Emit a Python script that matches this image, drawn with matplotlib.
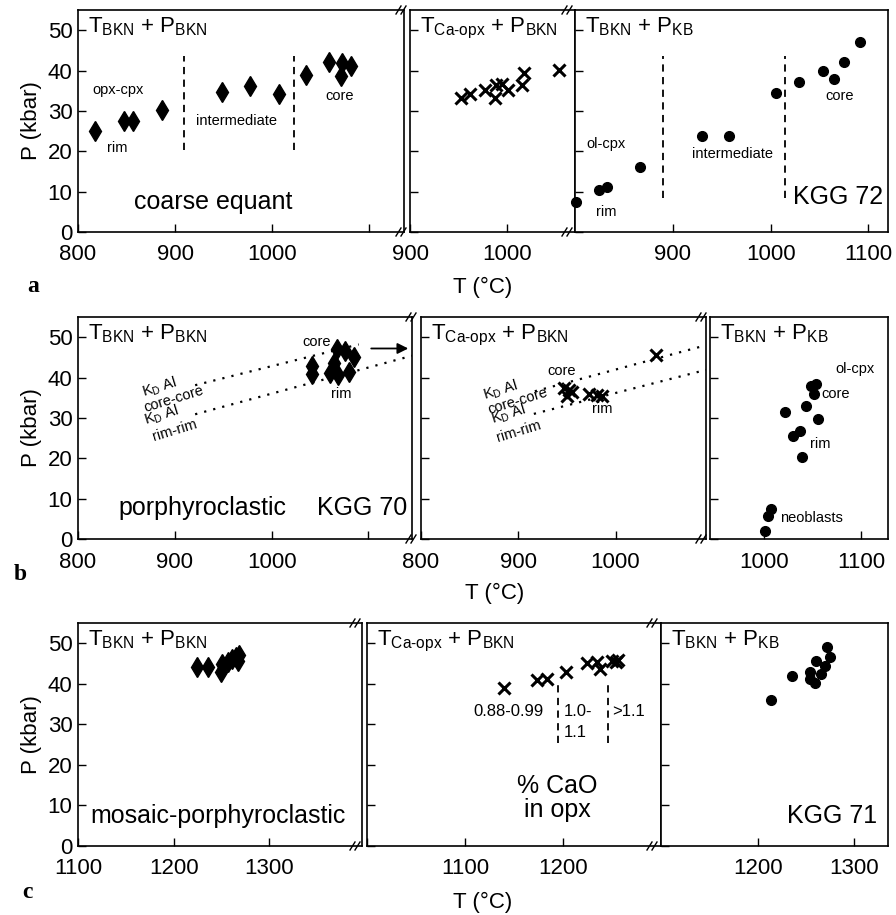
import matplotlib
matplotlib.use('Agg')
import numpy as np
from matplotlib import pyplot as plt
from matplotlib.lines import Line2D

plt.rcParams['font.family'] = ['Liberation Sans', 'DejaVu Sans']
plt.rcParams['mathtext.fontset'] = 'custom'
plt.rcParams['mathtext.rm'] = 'Liberation Sans'
plt.rcParams['mathtext.it'] = 'Liberation Sans:italic'

# row a: coarse equant, KGG 72
a1_T = [818, 847, 857, 887, 948, 977, 1007, 1035, 1059, 1071, 1072, 1081]
a1_P = [24.9, 27.6, 27.6, 30.3, 34.6, 36.1, 34.2, 38.9, 42.1, 38.7, 41.9, 41.2]
a2_T = [953, 962, 977, 988, 989, 995, 1001, 1015, 1017, 1053]
a2_P = [33.2, 34.2, 35.3, 33.2, 36.5, 36.7, 35.3, 36.3, 39.4, 40.2]
a3_T = [801, 825, 833, 866, 930, 957, 1006, 1029, 1054, 1065, 1075, 1091]
a3_P = [7.4, 10.3, 11.2, 16.1, 23.9, 23.7, 34.5, 37.1, 40.0, 37.9, 42.1, 47.0]
a1_zones = [909, 1023]
a3_zones = [890, 1015]

# row b: porphyroclastic, KGG 70
b1_T = [1042, 1042, 1060, 1064, 1068, 1069, 1076, 1080, 1085]
b1_P = [42.9, 40.8, 41.1, 43.7, 47.0, 40.6, 46.6, 41.4, 45.1]
b2_T = [947, 952, 950, 955, 973, 981, 986, 1042]
b2_P = [37.5, 36.9, 35.5, 36.3, 35.9, 35.7, 35.5, 45.5]
b3_T = [1001, 1004, 1007, 1022, 1030, 1037, 1039, 1043, 1048, 1054, 1052, 1056]
b3_P = [2.1, 5.6, 7.5, 31.4, 25.6, 26.7, 20.2, 32.9, 37.9, 38.5, 35.9, 29.8]
# KD Al trend lines (core-core, rim-rim)
kd1_core_T, kd1_core_P = [921, 1090], [38.1, 48.2]
kd1_rim_T, kd1_rim_P = [921, 1145], [30.9, 45.4]
kd2_core_T, kd2_core_P = [917, 1093], [36.6, 48.0]
kd2_rim_T, kd2_rim_P = [916, 1093], [31.0, 41.9]

# row c: mosaic-porphyroclastic, KGG 71
c1_T = [1224, 1236, 1250, 1251, 1257, 1261, 1265, 1267, 1268]
c1_P = [44.1, 44.1, 42.8, 44.9, 45.3, 46.1, 46.5, 45.7, 47.1]
c2_T = [1140, 1173, 1184, 1203, 1224, 1235, 1238, 1250, 1254, 1256]
c2_P = [38.9, 40.9, 41.1, 42.9, 45.1, 45.3, 43.7, 45.7, 45.5, 45.9]
c3_T = [1213, 1235, 1254, 1254, 1259, 1261, 1266, 1270, 1272, 1275]
c3_P = [35.9, 41.9, 42.9, 41.3, 40.2, 45.7, 42.5, 44.4, 49.1, 46.6]
c2_zones = [1195, 1246]

W, H = 896, 915
fig = plt.figure(figsize=(W / 100, H / 100), dpi=100)


def panel(l, r, t, b, xlim, ticks, labels, ylab=False):
    ax = fig.add_axes([l / W, 1 - b / H, (r - l) / W, (b - t) / H])
    ax.set_xlim(xlim)
    ax.set_ylim(0, 55)
    ax.set_xticks(ticks, labels)
    ax.set_yticks(range(0, 51, 10))
    ax.tick_params(direction='in', length=6, width=1, labelsize=16, pad=9,
                   top=False, right=False)
    ax.tick_params(axis='y', pad=4)
    for s in ax.spines.values():
        s.set_linewidth(1.2)
    if ylab:
        ax.set_ylabel('P (kbar)', fontsize=16, labelpad=4)
    else:
        ax.set_yticklabels([])
    return ax


def title(ax, s):
    ax.annotate(s, xy=(0, 1), xycoords='axes fraction', xytext=(7, -4),
                textcoords='offset points', ha='left', va='top', fontsize=16)


def brk(x, y):
    for dx in (-2.5, 2.5):
        fig.add_artist(Line2D([(x + dx - 2.5) / W, (x + dx + 2.5) / W],
                              [1 - (y + 4) / H, 1 - (y - 4) / H],
                              color='black', lw=1))


def diamonds(ax, T, P):
    ax.plot(T, P, 'd', color='black', ms=10.5, clip_on=False)


def crosses(ax, T, P):
    ax.plot(T, P, 'x', color='black', ms=8.5, mew=2.2, clip_on=False)


def dots(ax, T, P):
    ax.plot(T, P, 'o', color='black', ms=7, clip_on=False)


lab = dict(fontsize=10.5, ha='center', va='center')
big = dict(fontsize=18, ha='center', va='center')

T_bkn_bkn = r'T$_{\rm BKN}$ + P$_{\rm BKN}$'
T_ca_bkn = r'T$_{\text{Ca-opx}}$ + P$_{\rm BKN}$'
T_bkn_kb = r'T$_{\rm BKN}$ + P$_{\rm KB}$'

# ---- row a
ax = panel(78, 404, 10, 232, (800, 1136), [800, 900, 1000, 1100],
           ['800', '900', '1000', ''], ylab=True)
title(ax, T_bkn_bkn)
diamonds(ax, a1_T, a1_P)
ax.vlines(a1_zones, 20.3, 43.5, colors='black', linestyles=(0, (4, 3)), lw=1.3)
ax.text(841, 35.2, 'opx-cpx', **lab)
ax.text(840, 20.7, 'rim', **lab)
ax.text(963, 27.4, 'intermediate', **lab)
ax.text(1070, 33.6, 'core', **lab)
ax.text(939, 7.5, 'coarse equant', **big)

ax = panel(410, 575, 10, 232, (900, 1070), [900, 1000], ['900', '1000'])
title(ax, T_ca_bkn)
crosses(ax, a2_T, a2_P)

ax = panel(575, 888, 10, 232, (800, 1120), [900, 1000, 1100],
           ['900', '1000', '1100'])
title(ax, T_bkn_kb)
dots(ax, a3_T, a3_P)
ax.vlines(a3_zones, 8.3, 43.6, colors='black', linestyles=(0, (4, 3)), lw=1.3)
ax.text(832, 21.8, 'ol-cpx', **lab)
ax.text(832, 5.0, 'rim', **lab)
ax.text(961, 19.3, 'intermediate', **lab)
ax.text(1071, 33.8, 'core', **lab)
ax.text(1069, 8.6, 'KGG 72', **big)

fig.text(483 / W, 1 - 287 / H, 'T (°C)', fontsize=16, ha='center', va='center')
fig.text(33 / W, 1 - 286 / H, 'a', fontsize=17, fontweight='bold',
         family='Liberation Serif', ha='center', va='center')
for x in (401, 567):
    brk(x, 10)
    brk(x, 232)

# ---- row b
dotted = dict(color='black', lw=1.6, linestyle=(0, (1, 3.2)))
ax = panel(78, 412, 317, 539, (800, 1145), [800, 900, 1000, 1100],
           ['800', '900', '1000', ''], ylab=True)
title(ax, T_bkn_bkn)
ax.plot(kd1_core_T, kd1_core_P, **dotted)
ax.plot(kd1_rim_T, kd1_rim_P, **dotted)
diamonds(ax, b1_T, b1_P)
ax.annotate('', xy=(1144, 47.2), xytext=(1100, 47.2),
            arrowprops=dict(arrowstyle='-|>', color='black', lw=1.3,
                            mutation_scale=16))
rot = dict(rotation=17, rotation_mode='anchor', fontsize=10.5,
           ha='center', va='center')
ax.text(884, 37.5, r'K$_{\rm D}$ Al', **rot)
ax.text(899, 34.6, 'core-core', **rot)
ax.text(886, 30.5, r'K$_{\rm D}$ Al', **rot)
ax.text(900, 27.0, 'rim-rim', **rot)
ax.text(1047, 48.9, 'core', **lab)
ax.text(1072, 35.9, 'rim', **lab)
ax.text(929, 7.6, 'porphyroclastic', **big)
ax.text(1093, 7.6, 'KGG 70', **big)

ax = panel(421, 706, 317, 539, (800, 1093), [800, 900, 1000],
           ['800', '900', '1000'])
title(ax, T_ca_bkn)
ax.plot(kd2_core_T, kd2_core_P, **dotted)
ax.plot(kd2_rim_T, kd2_rim_P, **dotted)
crosses(ax, b2_T, b2_P)
ax.text(882, 36.9, r'K$_{\rm D}$ Al', **rot)
ax.text(899, 34.2, 'core-core', **rot)
ax.text(890, 30.9, r'K$_{\rm D}$ Al', **rot)
ax.text(900, 26.6, 'rim-rim', **rot)
ax.text(945, 41.7, 'core', **lab)
ax.text(986, 32.2, 'rim', **lab)

ax = panel(710, 888, 317, 539, (944, 1128), [1000, 1100], ['1000', '1100'])
title(ax, T_bkn_kb)
dots(ax, b3_T, b3_P)
ax.text(1094, 42.0, 'ol-cpx', **lab)
ax.text(1074, 35.9, 'core', **lab)
ax.text(1058, 23.5, 'rim', **lab)
ax.text(1049, 5.2, 'neoblasts', **lab)

fig.text(495 / W, 1 - 593 / H, 'T (°C)', fontsize=16, ha='center', va='center')
fig.text(20 / W, 1 - 574 / H, 'b', fontsize=17, fontweight='bold',
         family='Liberation Serif', ha='center', va='center')
for x in (411, 701):
    brk(x, 317)
    brk(x, 539)

# ---- row c
ax = panel(78, 362, 623, 846, (1100, 1397), [1100, 1200, 1300],
           ['1100', '1200', '1300'], ylab=True)
title(ax, T_bkn_bkn)
diamonds(ax, c1_T, c1_P)
ax.text(1246, 7.5, 'mosaic-porphyroclastic', **big)

ax = panel(367, 661, 623, 846, (1000, 1300), [1000, 1100, 1200],
           ['', '1100', '1200'])
title(ax, T_ca_bkn)
crosses(ax, c2_T, c2_P)
ax.vlines(c2_zones, 25.5, 40.1, colors='black', linestyles=(0, (4, 3)), lw=1.3)
ax.text(1144, 33.2, '0.88-0.99', fontsize=12, ha='center', va='center')
ax.text(1201, 33.2, '1.0-', fontsize=12, ha='left', va='center')
ax.text(1201, 27.9, '1.1', fontsize=12, ha='left', va='center')
ax.text(1250, 33.2, '>1.1', fontsize=12, ha='left', va='center')
ax.text(1194, 11.8, '% CaO\nin opx', fontsize=18, ha='center', va='center',
        linespacing=1.0)

ax = panel(661, 888, 623, 846, (1098, 1336), [1200, 1300], ['1200', '1300'])
title(ax, T_bkn_kb)
dots(ax, c3_T, c3_P)
ax.text(1277, 7.3, 'KGG 71', **big)

fig.text(483 / W, 1 - 902 / H, 'T (°C)', fontsize=16, ha='center', va='center')
fig.text(27 / W, 1 - 893 / H, 'c', fontsize=17, fontweight='bold',
         family='Liberation Serif', ha='center', va='center')
for x in (355, 652):
    brk(x, 623)
    brk(x, 846)

fig.savefig('out.png', dpi=100)
